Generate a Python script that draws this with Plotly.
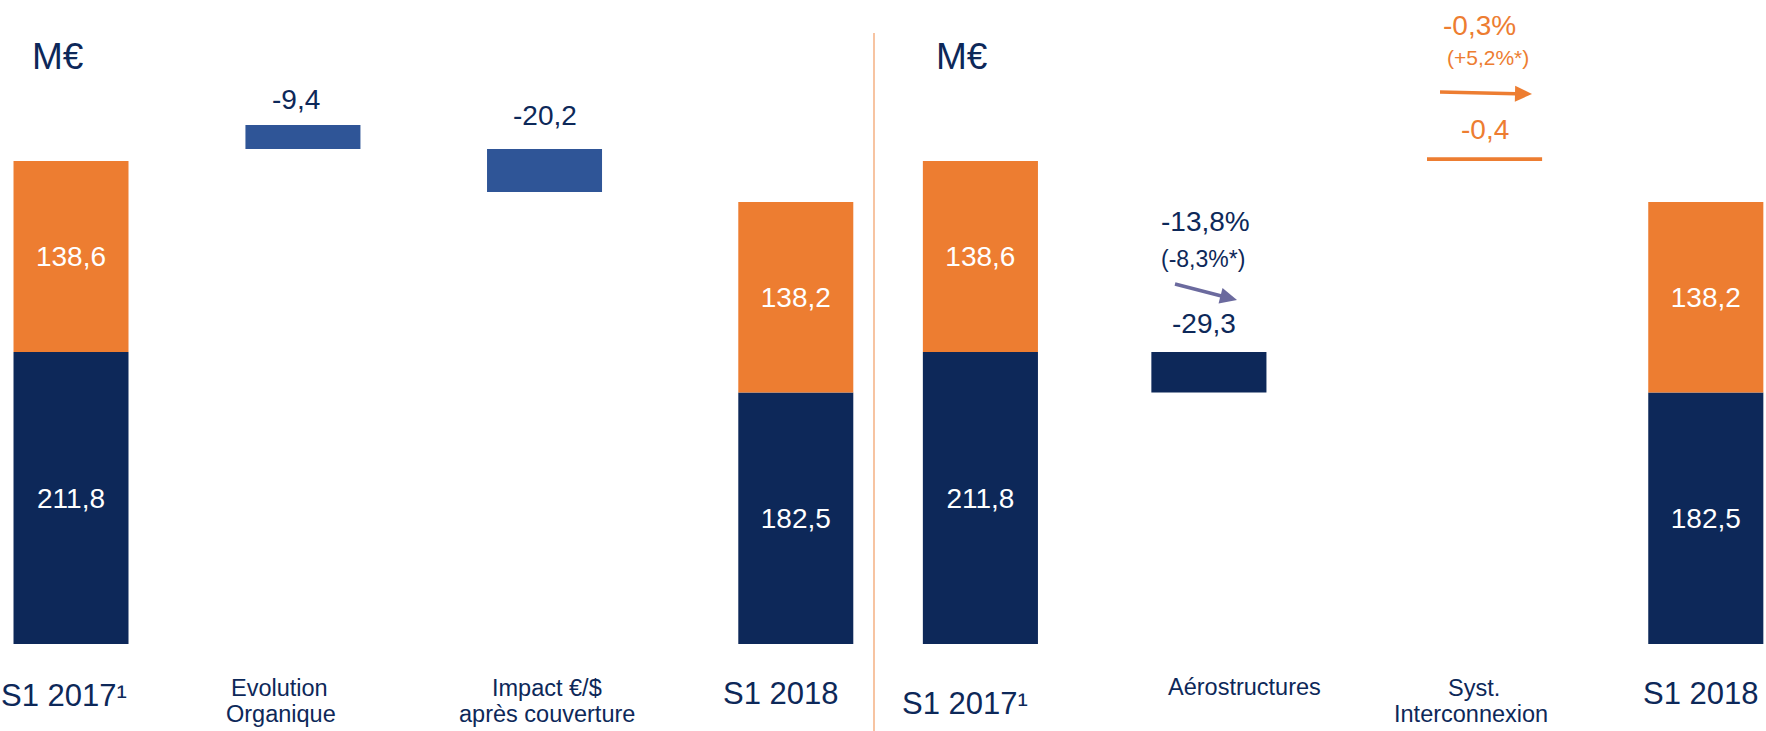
import plotly.graph_objects as go

# ---------------- data ----------------
period_labels = ["S1 2017¹", "S1 2018"]
aero_values = [211.8, 182.5]          # navy segment
syst_values = [138.6, 138.2]          # orange segment

left_steps = ["Evolution", "Impact €/$"]
left_steps_line2 = ["Organique", "après couverture"]
left_step_values = [-9.4, -20.2]
left_step_low = [359.1, 327.9]        # drawn extents of the floating bars
left_step_high = [376.5, 359.1]

right_steps = ["Aérostructures", "Syst."]
right_steps_line2 = ["", "Interconnexion"]
right_step_values = [-29.3, -0.4]
right_step_pct = ["-13,8%", "-0,3%"]
right_step_pct_const = ["(-8,3%*)", "(+5,2%*)"]
syst_line_extent = [350.4, 353.1]     # drawn thin line for the -0,4 step

unit_label = "M€"


def fr(v):
    return f"{v:.1f}".replace(".", ",")


# ---------------- styles ----------------
NAVY = "#0D2859"
ORANGE = "#ED7D31"
BLUE = "#2F5597"
TXT = "#0D2859"
ARROW_PURPLE = "#6B6A9E"
SEP = "#F4B183"
FONT = "Liberation Sans, Arial, sans-serif"
W, H = 1766, 731
BW = 0.476
SEP_X = 874

# slot positions on each panel's axis
left_x = [0, 0.96, 1.96, 3]
right_x = [0, 0.945, 2.085, 3]

fig = go.Figure()


def bar(x, y, base, color, axis, labels=None):
    kw = {}
    if labels is not None:
        kw = dict(text=labels, textposition="inside", insidetextanchor="middle",
                  textfont=dict(color="white", size=28, family=FONT),
                  constraintext="none")
    fig.add_trace(go.Bar(
        x=x, y=y, base=base, width=BW,
        marker=dict(color=color, line=dict(width=0)),
        xaxis="x" if axis == 1 else "x2", yaxis="y" if axis == 1 else "y2",
        showlegend=False, hoverinfo="skip", **kw))


# ----- left panel -----
bar([left_x[0], left_x[3]], aero_values, [0, 0], NAVY, 1, [fr(v) for v in aero_values])
bar([left_x[0], left_x[3]], syst_values, aero_values, ORANGE, 1, [fr(v) for v in syst_values])
bar(left_x[1:3], [h - l for h, l in zip(left_step_high, left_step_low)], left_step_low, BLUE, 1)

# ----- right panel -----
bar([right_x[0], right_x[3]], aero_values, [0, 0], NAVY, 2, [fr(v) for v in aero_values])
bar([right_x[0], right_x[3]], syst_values, aero_values, ORANGE, 2, [fr(v) for v in syst_values])
bar([right_x[1]], [-right_step_values[0]], [aero_values[1]], NAVY, 2)
bar([right_x[2]], [syst_line_extent[1] - syst_line_extent[0]], [syst_line_extent[0]], ORANGE, 2)

# ----- annotations -----
ann = []


def px(x):
    return x / W


def py(y):
    return 1 - y / H


def t(text, x, y, size, color=TXT):
    ann.append(dict(text=text, x=px(x), y=py(y), xref="paper", yref="paper",
                    showarrow=False, xanchor="center", yanchor="middle",
                    font=dict(size=size, color=color, family=FONT)))


t(unit_label, 58, 56, 37)
t(unit_label, 962, 56, 37)

t(fr(left_step_values[0]), 296, 99, 28)
t(fr(left_step_values[1]), 545, 116, 28)

t(right_step_pct[0], 1205, 221, 28)
t(right_step_pct_const[0], 1203, 259, 23)
t(fr(right_step_values[0]), 1204, 324, 28)

t(right_step_pct[1], 1479, 25, 28, ORANGE)
t(right_step_pct_const[1], 1488, 57, 21, ORANGE)
t(fr(right_step_values[1]), 1485, 129, 28, ORANGE)

# category labels
t(period_labels[0], 64, 695, 31)
t(period_labels[1], 781, 693, 31)
t(period_labels[0], 965, 703, 31)
t(period_labels[1], 1701, 693, 31)
t(left_steps[0], 279, 688, 23.5)
t(left_steps_line2[0], 281, 714, 23.5)
t(left_steps[1], 547, 688, 23.5)
t(left_steps_line2[1], 547, 714, 23.5)
t(right_steps[0], 1244, 687, 23.5)
t(right_steps[1], 1474, 688, 23.5)
t(right_steps_line2[1], 1471, 714, 23.5)

# ----- arrows and separator as shapes -----
shapes = [dict(type="line", xref="paper", yref="paper", x0=px(SEP_X), x1=px(SEP_X),
               y0=0, y1=py(33), line=dict(color=SEP, width=1.5))]


def arrow(x0, y0, x1, y1, color, width=3.5, head_len=17, head_half=8):
    dx, dy = x1 - x0, y1 - y0
    L = (dx * dx + dy * dy) ** 0.5
    ux, uy = dx / L, dy / L
    bx, by = x1 - head_len * ux, y1 - head_len * uy
    nx, ny = -uy, ux
    shapes.append(dict(type="line", xref="paper", yref="paper",
                       x0=px(x0), y0=py(y0), x1=px(bx + ux), y1=py(by + uy),
                       line=dict(color=color, width=width)))
    pts = [(x1, y1), (bx + head_half * nx, by + head_half * ny),
           (bx - head_half * nx, by - head_half * ny)]
    path = "M " + " L ".join(f"{px(a):.6f},{py(b):.6f}" for a, b in pts) + " Z"
    shapes.append(dict(type="path", xref="paper", yref="paper", path=path,
                       fillcolor=color, line=dict(color=color, width=0)))


arrow(1175, 284, 1237, 300, ARROW_PURPLE)
arrow(1440, 92, 1532, 94, ORANGE)

fig.update_layout(
    width=W, height=H, margin=dict(l=0, r=0, t=0, b=0),
    paper_bgcolor="white", plot_bgcolor="white",
    barmode="overlay", annotations=ann, shapes=shapes,
    xaxis=dict(domain=[0, SEP_X / W], range=[-0.2939, 3.332 - (876 - SEP_X) / 241.6],
               visible=False, fixedrange=True),
    xaxis2=dict(domain=[SEP_X / W, 1], range=[-0.4318 - (876 - SEP_X) / 241.8, 3.249],
                visible=False, fixedrange=True),
    yaxis=dict(domain=[0, 1], range=[-63.1, 467.2], visible=False, fixedrange=True),
    yaxis2=dict(domain=[0, 1], range=[-63.1, 467.2], visible=False, fixedrange=True,
                anchor="x2"),
    font=dict(family=FONT),
)

fig.write_html("out.html", config={"displayModeBar": False},
               post_script="document.body.style.margin='0';document.body.style.overflow='hidden';")
